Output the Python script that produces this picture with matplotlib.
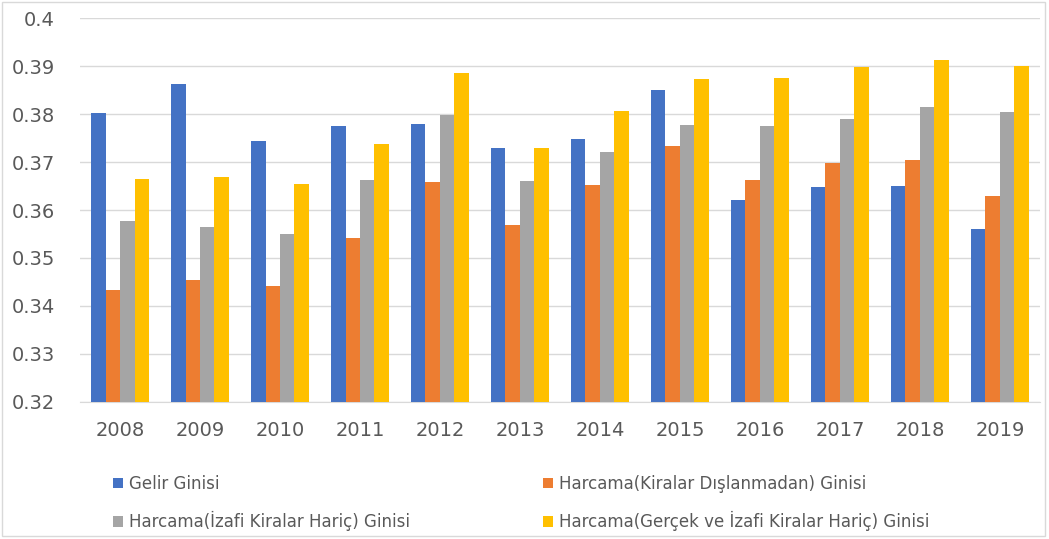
import numpy as np
import matplotlib.pyplot as plt
from matplotlib.patches import Rectangle

years = ['2008', '2009', '2010', '2011', '2012', '2013',
         '2014', '2015', '2016', '2017', '2018', '2019']
gelir = [0.3803, 0.3864, 0.3743, 0.3776, 0.3780, 0.3729,
         0.3749, 0.3851, 0.3620, 0.3647, 0.3651, 0.3560]
harcama_kira_dahil = [0.3433, 0.3455, 0.3442, 0.3541, 0.3659, 0.3569,
                      0.3653, 0.3734, 0.3662, 0.3698, 0.3704, 0.3630]
harcama_izafi_haric = [0.3578, 0.3564, 0.3551, 0.3663, 0.3799, 0.3661,
                       0.3721, 0.3777, 0.3776, 0.3790, 0.3814, 0.3804]
harcama_tum_kira_haric = [0.3665, 0.3669, 0.3655, 0.3738, 0.3885, 0.3730,
                          0.3807, 0.3873, 0.3876, 0.3899, 0.3913, 0.3901]

labels = ['Gelir Ginisi',
          'Harcama(Kiralar Dışlanmadan) Ginisi',
          'Harcama(İzafi Kiralar Hariç) Ginisi',
          'Harcama(Gerçek ve İzafi Kiralar Hariç) Ginisi']
colors = ['#4472C4', '#ED7D31', '#A5A5A5', '#FFC000']
series = [gelir, harcama_kira_dahil, harcama_izafi_haric, harcama_tum_kira_haric]

plt.rcParams['font.family'] = ['DejaVu Sans']
text_color = '#595959'

fig = plt.figure(figsize=(10.49, 5.39), dpi=100)
ax = fig.add_axes([0.0763, 0.2547, 0.915, 0.7113])

x = np.arange(len(years))
w = 0.181
handles = []
for i, (vals, lab, col) in enumerate(zip(series, labels, colors)):
    b = ax.bar(x + (i - 1.5) * w, vals, width=w, color=col, label=lab, zorder=3)
    handles.append(b)

ax.set_ylim(0.32, 0.40)
ax.set_xlim(-0.5, len(years) - 0.5)
ax.set_yticks(np.arange(0.32, 0.4001, 0.01))
ax.set_yticklabels(['0.32', '0.33', '0.34', '0.35', '0.36', '0.37', '0.38', '0.39', '0.4'])
ax.set_xticks(x)
ax.set_xticklabels(years)
ax.tick_params(axis='y', length=0, pad=18, labelsize=14, labelcolor=text_color)
ax.tick_params(axis='x', length=0, pad=14, labelsize=14, labelcolor=text_color)
ax.grid(axis='y', color='#D9D9D9', linewidth=1, zorder=0)
for s in ['top', 'right', 'left']:
    ax.spines[s].set_visible(False)
ax.spines['bottom'].set_color('#D9D9D9')

order = [0, 2, 1, 3]
leg = fig.legend([handles[i] for i in order], [labels[i] for i in order],
                 ncol=2, loc='upper left', bbox_to_anchor=(0.093, 0.147),
                 frameon=False, fontsize=12, labelcolor=text_color,
                 handlelength=0.6, handleheight=0.6, handletextpad=0.4,
                 columnspacing=7.95, labelspacing=1.1)

fig.patches.append(Rectangle((0.002, 0.006), 0.994, 0.99, transform=fig.transFigure,
                             fill=False, edgecolor='#D9D9D9', linewidth=1))

fig.savefig('out.png', dpi=100)
